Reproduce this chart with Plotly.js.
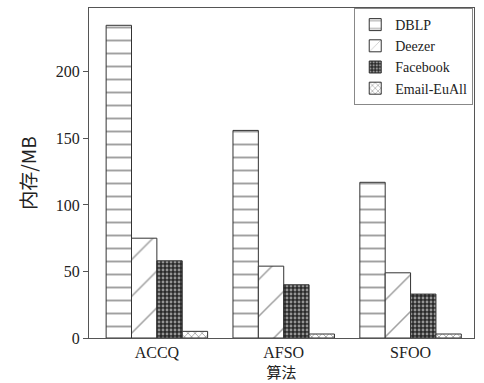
<!DOCTYPE html>
<html><head><meta charset="utf-8">
<script src="https://cdn.plot.ly/plotly-3.0.1.min.js"></script>
<style>body{margin:0;background:#fff}#c{width:484px;height:383px}</style>
</head><body><div id="c"></div>
<script>
const categories = ['ACCQ', 'AFSO', 'SFOO'];
const seriesNames = ['DBLP', 'Deezer', 'Facebook', 'Email-EuAll'];
const dblp = [235, 156, 117];
const deezer = [75, 54, 49];
const facebook = [58, 40, 33];
const email = [5, 3, 3];
const yTicks = [0, 50, 100, 150, 200];

const values = [dblp, deezer, facebook, email];
const patterns = [
  {shape: '-', size: 13, solidity: 0.15, fgcolor: '#444', bgcolor: '#fff', fillmode: 'overlay'},
  {shape: '/', size: 26, solidity: 0.06, fgcolor: '#444', bgcolor: '#fff', fillmode: 'overlay'},
  {shape: '.', size: 4, solidity: 0.4, fgcolor: '#fff', bgcolor: '#2a2a2a', fillmode: 'overlay'},
  {shape: 'x', size: 5, solidity: 0.3, fgcolor: '#444', bgcolor: '#fff', fillmode: 'overlay'}
];
const traces = seriesNames.map((n, i) => ({
  type: 'bar', name: n, x: categories, y: values[i],
  marker: {color: '#fff', pattern: patterns[i], line: {color: '#333', width: 1}}
}));
const serif = 'Liberation Serif, Times New Roman, serif';
const layout = {
  width: 484, height: 383,
  margin: {l: 89, r: 10, t: 7, b: 44},
  barmode: 'group', bargap: 0.2, bargroupgap: 0,
  paper_bgcolor: '#fff', plot_bgcolor: '#fff',
  font: {family: serif, size: 14, color: '#222'},
  xaxis: {
    range: [-0.535, 2.5], showline: true, mirror: true, linecolor: '#555', linewidth: 1,
    ticks: '', tickfont: {family: serif, size: 16, color: '#222'},
    title: {text: '算法', font: {family: 'Noto Sans CJK SC', size: 15, color: '#222'}, standoff: 4},
    automargin: true
  },
  yaxis: {
    range: [0, 248], tickvals: yTicks, showgrid: false, zeroline: false,
    showline: true, mirror: true, linecolor: '#555', linewidth: 1,
    ticks: 'outside', ticklen: 5, tickcolor: '#555',
    tickfont: {family: serif, size: 16, color: '#222'},
    title: {text: '内存/MB', font: {family: 'Noto Sans CJK SC', size: 19, color: '#222'}, standoff: 14},
    automargin: false
  },
  legend: {
    x: 0.998, xanchor: 'right', y: 1.0, yanchor: 'top',
    bordercolor: '#888', borderwidth: 1, bgcolor: '#fff',
    font: {family: serif, size: 14, color: '#222'},
    tracegroupgap: 0, itemwidth: 30
  },
  showlegend: true
};
Plotly.newPlot('c', traces, layout, {displayModeBar: false, staticPlot: true});
</script></body></html>
